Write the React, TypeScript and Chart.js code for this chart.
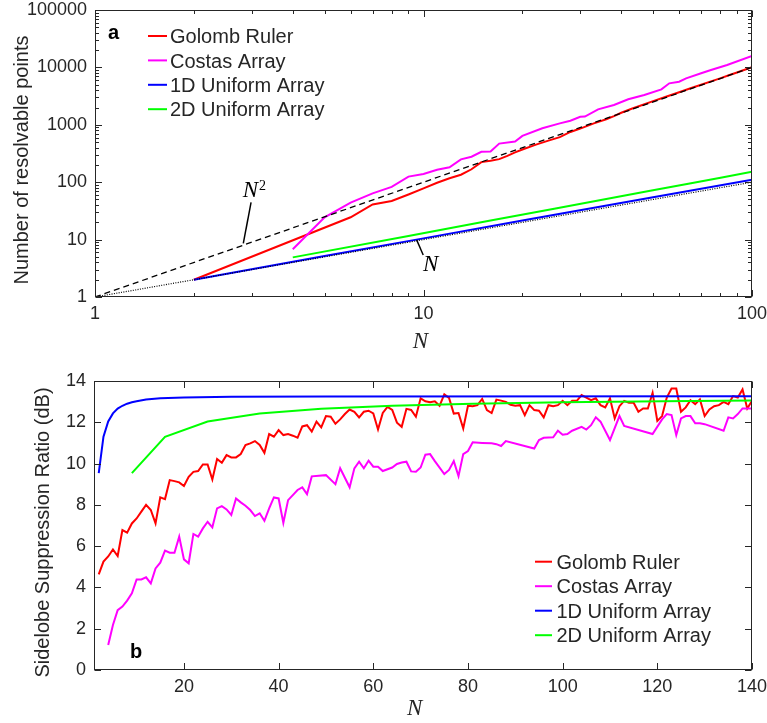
import React, { useEffect, useRef } from 'react';
import { Chart, registerables } from 'chart.js';

Chart.register(...registerables);

const SANS = '"Liberation Sans", Arial, Helvetica, sans-serif';
const SERIF = '"Liberation Serif", "Times New Roman", serif';
const TXT = '#262626';

const LABELS = ['Golomb Ruler', 'Costas Array', '1D Uniform Array', '2D Uniform Array'];
const COLORS = ['#ff0000', '#ff00ff', '#0000ff', '#00ff00'];

// ---------------- Panel a (log-log) ----------------
const aTicksX = [1, 10, 100];
const aTicksY = [1, 10, 100, 1000, 10000, 100000];
const aMinorX = [2, 3, 4, 5, 6, 7, 8, 9, 20, 30, 40, 50, 60, 70, 80, 90];
const aMinorY = [
  2, 3, 4, 5, 6, 7, 8, 9, 20, 30, 40, 50, 60, 70, 80, 90,
  200, 300, 400, 500, 600, 700, 800, 900, 2000, 3000, 4000, 5000, 6000, 7000, 8000, 9000,
  20000, 30000, 40000, 50000, 60000, 70000, 80000, 90000,
];

const aSquareN = [1, 100];
const aSquareV = [1, 10000];
const aLinearN = [1, 100];
const aLinearV = [1, 100];

const aGolombN = [2, 6, 7, 8, 9, 10, 11, 12, 13, 14, 15, 16, 17, 18, 19, 20, 22, 24, 26, 28, 30, 33, 36, 38, 40, 43, 45, 50, 55, 60, 65, 70, 75, 80, 85, 90, 95, 100];
const aGolombV = [2, 24.5, 41, 47, 61, 78, 98, 117, 135, 168, 224, 236, 252, 288, 330, 372, 452, 530, 610, 750, 860, 1060, 1250, 1420, 1620, 1900, 2080, 2580, 3120, 3700, 4330, 5000, 5700, 6450, 7300, 8150, 9100, 10100];

const aCostasN = [4, 5, 6, 7, 8, 9, 10, 11, 12, 13, 14, 15, 16, 17, 19, 20, 23, 26, 28, 30, 31, 34, 38, 42, 47, 53, 56, 60, 63, 70, 75, 84, 100];
const aCostasV = [6.8, 24.5, 44, 64, 83, 125, 139, 165, 182, 250, 278, 338, 342, 470, 510, 640, 870, 1060, 1180, 1380, 1390, 1860, 2210, 2780, 3300, 4150, 5280, 5640, 6450, 7890, 9000, 11000, 15800];

const aUni1dN = [2, 5, 10, 20, 50, 100];
const aUni1dV = [2, 5.2, 10.5, 21.5, 54.5, 110];

const aUni2dN = [4, 9, 16, 25, 36, 49, 64, 81, 100];
const aUni2dV = [4.9, 11.6, 21.5, 34.6, 51, 71, 94, 121, 152];

// ---------------- Panel b (linear) ----------------
const bTicksX = [20, 40, 60, 80, 100, 120, 140];
const bTicksY = [0, 2, 4, 6, 8, 10, 12, 14];

const bGolombN = [
  2, 3, 4, 5, 6, 7, 8, 9, 10, 11, 12, 13, 14, 15, 16, 17, 18, 19, 20, 21, 22, 23, 24, 25, 26, 27, 28, 29, 30, 31,
  32, 33, 34, 35, 36, 37, 38, 39, 40, 41, 42, 43, 44, 45, 46, 47, 48, 49, 50, 51, 52, 53, 54, 55, 56, 57, 58, 59, 60, 61,
  62, 63, 64, 65, 66, 67, 68, 69, 70, 71, 72, 73, 74, 75, 76, 77, 78, 79, 80, 81, 82, 83, 84, 85, 86, 87, 88, 89, 90, 91,
  92, 93, 94, 95, 96, 97, 98, 99, 100, 101, 102, 103, 104, 105, 106, 107, 108, 109, 110, 111, 112, 113, 114, 115, 116, 117, 118, 119, 120, 121,
  122, 123, 124, 125, 126, 127, 128, 129, 130, 131, 132, 133, 134, 135, 136, 137, 138, 139, 140,
];
const bGolombV = [
  4.63, 5.25, 5.5, 5.84, 5.52, 6.78, 6.65, 7.1, 7.34, 7.67,
  8.0, 7.75, 7.1, 8.36, 8.28, 9.2, 9.15, 9.09, 8.91, 9.36,
  9.6, 9.64, 9.96, 9.96, 9.23, 10.22, 10.04, 10.41, 10.3, 10.3,
  10.46, 10.9, 10.98, 11.09, 10.9, 10.52, 11.43, 11.3, 11.62, 11.38,
  11.43, 11.35, 11.25, 11.8, 11.86, 11.55, 12.03, 11.75, 12.3, 12.27,
  11.93, 12.14, 12.4, 12.62, 12.51, 12.24, 12.51, 12.56, 12.43, 11.65,
  12.45, 12.75, 12.6, 11.98, 11.78, 12.65, 12.6, 12.27, 13.16, 13.02,
  12.97, 13.02, 12.8, 13.35, 13.18, 12.42, 12.45, 11.7, 12.8, 12.78,
  12.83, 13.13, 12.59, 12.45, 13.1, 13.05, 12.99, 12.85, 12.8, 12.83,
  12.35, 12.83, 12.59, 12.56, 12.24, 12.83, 12.78, 12.83, 13.04, 12.83,
  13.04, 13.04, 13.32, 13.2, 13.07, 13.16, 12.83, 12.72, 13.16, 12.19,
  12.78, 13.04, 12.95, 12.95, 12.51, 12.67, 12.67, 13.43, 12.07, 12.3,
  13.2, 13.64, 13.64, 12.51, 12.72, 13.07, 12.88, 13.11, 12.3, 12.62,
  12.78, 12.83, 12.99, 12.88, 13.27, 13.2, 13.59, 12.67, 13.04,
];

const bCostasN = [
  4, 5, 6, 7, 8, 9, 10, 11, 12, 13, 14, 15, 16, 17, 18, 19, 20, 21, 22, 23, 24, 25, 26, 27, 28, 29, 30, 31, 32, 33,
  34, 35, 36, 37, 38, 39, 40, 41, 42, 43, 44, 45, 46, 47, 50, 52, 53, 55, 56, 57, 58, 59, 60, 61, 62,
  64, 65, 66, 67, 68, 69, 70, 71, 72, 73, 75, 76, 77, 78, 79, 80, 81, 83, 85, 86, 87, 88,
  94, 95, 96, 98, 99, 100, 101, 102, 104, 105, 106, 107, 108, 110, 112, 113,
  119, 121, 122, 123, 124, 125, 126, 127, 128, 129, 130, 134, 135, 136, 137, 138, 139, 140,
];
const bCostasV = [
  1.21, 2.18, 2.9, 3.07, 3.36, 3.71, 4.39, 4.39, 4.49, 4.2,
  4.92, 5.2, 5.78, 5.68, 5.68, 6.46, 5.36, 5.17, 6.59, 6.46,
  6.86, 7.18, 6.91, 7.83, 7.94, 7.78, 7.51, 8.31, 8.12, 7.96,
  7.75, 7.46, 7.59, 7.23, 7.83, 8.36, 8.31, 7.13, 8.23, 8.47,
  8.72, 8.85, 8.52, 9.38, 9.44, 9.0, 9.77, 8.85, 9.77, 10.09, 9.77, 10.14, 9.85, 9.85, 9.64,
  9.81, 9.98, 10.05, 10.09, 9.62, 9.6, 9.81, 10.43, 10.46, 10.12, 9.49, 9.69, 10.12, 9.39, 10.46, 10.61, 11.03,
  11.0, 10.98, 10.94, 10.85, 11.09,
  10.73, 11.14, 11.25, 11.27, 11.59, 11.4, 11.43, 11.59, 11.78, 11.65, 11.86, 12.24, 12.03, 11.14, 12.3, 11.82,
  11.43, 12.14, 12.4, 12.35, 11.38, 12.19, 12.3, 12.3, 11.95, 11.95, 11.91, 11.59, 12.24, 12.19, 12.4, 12.67, 12.67, 12.67,
];

const bUni1dN = [2, 3, 4, 5, 6, 7, 8, 9, 10, 12, 15, 20, 30, 50, 140];
const bUni1dV = [9.54, 11.3, 12.04, 12.43, 12.66, 12.8, 12.9, 12.97, 13.02, 13.1, 13.16, 13.2, 13.24, 13.25, 13.26];

const bUni2dN = [9, 16, 25, 36, 49, 64, 81, 100, 121, 140];
const bUni2dV = [9.54, 11.3, 12.04, 12.43, 12.66, 12.8, 12.9, 12.97, 13.02, 13.05];

// ---------------- helpers ----------------
function series(label: string, color: string, xs: number[], ys: number[], order: number, extra: any = {}) {
  return {
    label,
    data: xs.map((x, i) => ({ x, y: ys[i] })),
    borderColor: color,
    backgroundColor: color,
    borderWidth: 2,
    pointRadius: 0,
    pointHoverRadius: 0,
    tension: 0,
    fill: false,
    order,
    ...extra,
  };
}

function makeFramePlugin(cfg: any) {
  return {
    id: 'frame',
    afterDraw(chart: any) {
      const { ctx, chartArea: ca, scales } = chart;
      const sx = scales.x;
      const sy = scales.y;
      const L = Math.round(ca.left) + 0.5;
      const R = Math.round(ca.right) - 0.5;
      const T = Math.round(ca.top) + 0.5;
      const B = Math.round(ca.bottom) - 0.5;
      ctx.save();
      ctx.strokeStyle = TXT;
      ctx.lineWidth = 1;
      ctx.setLineDash([]);
      ctx.beginPath();
      const tickX = (v: number, len: number) => {
        const p = Math.round(sx.getPixelForValue(v)) + 0.5;
        ctx.moveTo(p, B); ctx.lineTo(p, B - len);
        ctx.moveTo(p, T); ctx.lineTo(p, T + len);
      };
      const tickY = (v: number, len: number) => {
        const p = Math.round(sy.getPixelForValue(v)) + 0.5;
        ctx.moveTo(L, p); ctx.lineTo(L + len, p);
        ctx.moveTo(R, p); ctx.lineTo(R - len, p);
      };
      cfg.xMajor.forEach((v: number) => tickX(v, cfg.major));
      cfg.xMinor.forEach((v: number) => tickX(v, cfg.minor));
      cfg.yMajor.forEach((v: number) => tickY(v, cfg.major));
      cfg.yMinor.forEach((v: number) => tickY(v, cfg.minor));
      ctx.stroke();
      ctx.strokeRect(L, T, R - L, B - T);
      ctx.restore();
    },
  };
}

function makeTextPlugin(cfg: any) {
  return {
    id: 'texts',
    afterDraw(chart: any) {
      const { ctx, chartArea: ca, scales } = chart;
      const sx = scales.x;
      const sy = scales.y;
      ctx.save();
      ctx.setLineDash([]);
      // legend built from the datasets
      const items = chart.data.datasets
        .filter((d: any) => d.legendIndex !== undefined)
        .sort((a: any, b: any) => a.legendIndex - b.legendIndex);
      const lg = cfg.legend;
      items.forEach((d: any, i: number) => {
        const yc = ca.top + lg.top + i * lg.gap;
        ctx.strokeStyle = d.borderColor;
        ctx.lineWidth = 2;
        ctx.beginPath();
        ctx.moveTo(ca.left + lg.x0, yc);
        ctx.lineTo(ca.left + lg.x1, yc);
        ctx.stroke();
        ctx.fillStyle = TXT;
        ctx.font = `20px ${SANS}`;
        ctx.textAlign = 'left';
        ctx.textBaseline = 'alphabetic';
        ctx.fillText(d.label, ca.left + lg.tx, yc + 7.2);
      });
      // panel letter
      ctx.fillStyle = '#000';
      ctx.font = `bold 20px ${SANS}`;
      ctx.textAlign = 'left';
      ctx.textBaseline = 'alphabetic';
      ctx.fillText(cfg.letter.text, ca.left + cfg.letter.dx, ca.top + cfg.letter.dy);
      // y title
      ctx.fillStyle = TXT;
      ctx.save();
      ctx.translate(cfg.yTitle.x, cfg.yTitle.y);
      ctx.rotate(-Math.PI / 2);
      ctx.font = `20px ${SANS}`;
      ctx.textAlign = 'center';
      ctx.fillText(cfg.yTitle.text, 0, 0);
      ctx.restore();
      // x title
      ctx.font = `italic 23px ${SERIF}`;
      ctx.textAlign = 'center';
      ctx.fillText(cfg.xTitle.text, cfg.xTitle.x, cfg.xTitle.y);
      // annotations in data space
      (cfg.leaders || []).forEach((ld: number[][]) => {
        ctx.strokeStyle = '#000';
        ctx.lineWidth = 1.5;
        ctx.beginPath();
        ctx.moveTo(sx.getPixelForValue(ld[0][0]), sy.getPixelForValue(ld[0][1]));
        ctx.lineTo(sx.getPixelForValue(ld[1][0]), sy.getPixelForValue(ld[1][1]));
        ctx.stroke();
      });
      (cfg.notes || []).forEach((n: any) => {
        const px = sx.getPixelForValue(n.x);
        const py = sy.getPixelForValue(n.y);
        ctx.fillStyle = '#000';
        ctx.font = `italic 23px ${SERIF}`;
        ctx.textAlign = 'left';
        ctx.fillText(n.text, px, py);
        if (n.sup) {
          const w = ctx.measureText(n.text).width;
          ctx.font = `14px ${SERIF}`;
          ctx.fillText(n.sup, px + w + 1, py - 7);
        }
      });
      ctx.restore();
    },
  };
}

function axisBase(ticks: number[], fit: (s: any) => void, pad: number) {
  return {
    grid: { display: false, drawTicks: false },
    border: { display: false },
    ticks: {
      font: { family: SANS, size: 18 },
      color: TXT,
      padding: pad,
      autoSkip: false,
      maxRotation: 0,
      minRotation: 0,
      callback: (v: any) => String(v),
    },
    afterBuildTicks: (s: any) => {
      s.ticks = ticks.map((value) => ({ value }));
    },
    afterFit: fit,
  };
}

function configA() {
  return {
    type: 'line',
    data: {
      datasets: [
        series('N²', '#000', aSquareN, aSquareV, 0, { borderWidth: 1.3, borderDash: [6, 4] }),
        series('N', '#000', aLinearN, aLinearV, 1, { borderWidth: 1.2, borderDash: [1, 1.4] }),
        series(LABELS[3], COLORS[3], aUni2dN, aUni2dV, 2, { legendIndex: 3 }),
        series(LABELS[2], COLORS[2], aUni1dN, aUni1dV, 3, { legendIndex: 2 }),
        series(LABELS[1], COLORS[1], aCostasN, aCostasV, 4, { legendIndex: 1 }),
        series(LABELS[0], COLORS[0], aGolombN, aGolombV, 5, { legendIndex: 0 }),
      ],
    },
    options: {
      responsive: false,
      animation: false,
      devicePixelRatio: 1,
      layout: { padding: { left: 0, right: 15, top: 10, bottom: 0 } },
      plugins: { legend: { display: false }, tooltip: { enabled: false } },
      scales: {
        x: {
          type: 'logarithmic',
          min: 1,
          max: 100,
          ...axisBase(aTicksX, (s: any) => { s.height = 68; s.paddingLeft = 0; s.paddingRight = 0; }, 6),
        },
        y: {
          type: 'logarithmic',
          min: 1,
          max: 100000,
          ...axisBase(aTicksY, (s: any) => { s.width = 95; s.paddingTop = 0; s.paddingBottom = 0; }, 8),
        },
      },
    },
    plugins: [
      makeFramePlugin({ xMajor: aTicksX, xMinor: aMinorX, yMajor: aTicksY, yMinor: aMinorY, major: 6.5, minor: 3.5 }),
      makeTextPlugin({
        legend: { top: 26, gap: 24.4, x0: 53, x1: 72, tx: 75 },
        letter: { text: 'a', dx: 13, dy: 29.3 },
        yTitle: { text: 'Number of resolvable points', x: 27.5, y: 160 },
        xTitle: { text: 'N', x: 420.5, y: 348.3 },
        leaders: [
          [[2.986, 44.6], [2.828, 8.62]],
          [[9.535, 9.84], [9.98, 5.39]],
        ],
        notes: [
          { text: 'N', sup: '2', x: 2.816, y: 55.9 },
          { text: 'N', x: 9.97, y: 2.87 },
        ],
      }),
    ],
  };
}

function configB() {
  return {
    type: 'line',
    data: {
      datasets: [
        series(LABELS[3], COLORS[3], bUni2dN, bUni2dV, 0, { legendIndex: 3 }),
        series(LABELS[2], COLORS[2], bUni1dN, bUni1dV, 1, { legendIndex: 2 }),
        series(LABELS[1], COLORS[1], bCostasN, bCostasV, 2, { legendIndex: 1 }),
        series(LABELS[0], COLORS[0], bGolombN, bGolombV, 3, { legendIndex: 0 }),
      ],
    },
    options: {
      responsive: false,
      animation: false,
      devicePixelRatio: 1,
      layout: { padding: { left: 0, right: 15, top: 16, bottom: 0 } },
      plugins: { legend: { display: false }, tooltip: { enabled: false } },
      scales: {
        x: {
          type: 'linear',
          min: 1,
          max: 140,
          ...axisBase(bTicksX, (s: any) => { s.height = 53; s.paddingLeft = 0; s.paddingRight = 0; }, 6),
        },
        y: {
          type: 'linear',
          min: 0,
          max: 14,
          ...axisBase(bTicksY, (s: any) => { s.width = 94; s.paddingTop = 0; s.paddingBottom = 0; }, 8),
        },
      },
    },
    plugins: [
      makeFramePlugin({ xMajor: bTicksX, xMinor: [], yMajor: bTicksY, yMinor: [], major: 6.5, minor: 3.5 }),
      makeTextPlugin({
        legend: { top: 180.7, gap: 24.5, x0: 441, x1: 458, tx: 462.5 },
        letter: { text: 'b', dx: 36, dy: 277.3 },
        yTitle: { text: 'Sidelobe Suppression Ratio (dB)', x: 49, y: 167.5 },
        xTitle: { text: 'N', x: 414.7, y: 350 },
      }),
    ],
  };
}

function ChartCanvas({ make, top, width, height }: { make: () => any; top: number; width: number; height: number }) {
  const ref = useRef<HTMLCanvasElement | null>(null);
  useEffect(() => {
    if (!ref.current) return;
    const chart = new Chart(ref.current, make());
    return () => chart.destroy();
  }, []);
  return (
    <canvas
      ref={ref}
      width={width}
      height={height}
      style={{ position: 'absolute', left: 0, top, width, height, display: 'block' }}
    />
  );
}

export default function App() {
  return (
    <div style={{ position: 'absolute', left: 0, top: 0, width: 767, height: 723, background: '#fff' }}>
      <ChartCanvas make={configA} top={0} width={767} height={365} />
      <ChartCanvas make={configB} top={365} width={767} height={358} />
    </div>
  );
}
